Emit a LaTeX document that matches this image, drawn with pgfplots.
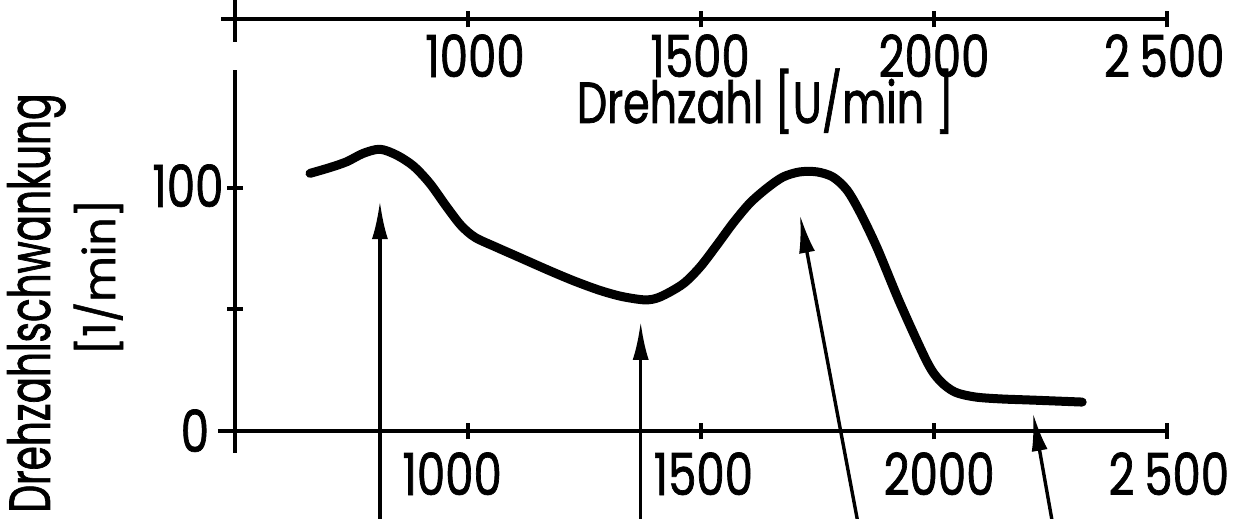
\documentclass[border=0pt]{standalone}
\usepackage{pgfplots}
\pgfplotsset{compat=1.18}
\usepackage{fontspec}
\setmainfont[FakeBold=1.2]{Poppins}
\newfontfamily\numfont[FakeStretch=0.777, FakeBold=1.2]{Poppins}
\newfontfamily\labfont[FakeStretch=0.738, FakeBold=1.2]{Poppins}
\newfontfamily\ylabfont[FakeStretch=0.673, FakeBold=1.2]{Poppins}
\usetikzlibrary{arrows.meta}

\begin{document}
\begin{tikzpicture}
\begin{axis}[
  scale only axis,
  width=466pt, height=121.65pt,
  xmin=500, xmax=2500, ymin=0, ymax=100,
  hide axis, clip=false,
]
% speed fluctuation over engine speed
\addplot[black, line width=4.5pt, line cap=round, line join=round, smooth, tension=0.5] coordinates {
  (661,105.9) (704,108.3) (740,110.7) (775,114.1) (811,115.8) (847,113.4)
  (883,108.9) (918,101.8) (954,92.2) (985,84.5) (1015,79.6) (1060,75.6)
  (1105,71.8) (1176,65.8) (1230,61.5) (1283,57.8) (1330,55.3) (1380,53.9)
  (1412,55.1) (1461,60.4) (1498,67.4) (1534,76.4) (1569,85.5) (1605,93.7)
  (1642,99.9) (1676,104.4) (1712,106.5) (1749,106.5) (1783,104.4) (1813,99.1)
  (1841,90.0) (1878,75.2) (1927,52.6) (1985,28.4) (2013,20.6) (2045,16.0)
  (2088,14.0) (2142,13.2) (2212,12.7) (2318,11.9)
};

% axis lines
\draw[line width=2.2pt] (axis cs:463.5,0) -- (axis cs:2500,0);
\draw[line width=2.2pt] (axis cs:500,-9) -- (axis cs:500,148.4);
\draw[line width=2.2pt] (axis cs:470,169.3) -- (axis cs:2500,169.3);
\draw[line width=2.2pt] (axis cs:500,159.9) -- (axis cs:500,180);

% tick marks
\pgfplotsinvokeforeach{1000,1500,2000,2500}{
  \draw[line width=2pt] (axis cs:#1,-3.4) -- (axis cs:#1,3.4);
  \draw[line width=2pt] (axis cs:#1,165.9) -- (axis cs:#1,172.7);
}
\pgfplotsinvokeforeach{50,100}{
  \draw[line width=2pt] (axis cs:483,#1) -- (axis cs:517,#1);
}

% tick labels
\tikzset{num/.style={font=\numfont\fontsize{29}{31}\selectfont, inner sep=0pt, anchor=base}}
\node[num] at (axis cs:1015,145.5) {1000};
\node[num] at (axis cs:1498,145.5) {1500};
\node[num] at (axis cs:2000,145.5) {2000};
\node[num] at (axis cs:2494,145.5) {2\,500};
\node[num] at (axis cs:966,-26.3) {1000};
\node[num] at (axis cs:1505,-26.3) {1500};
\node[num] at (axis cs:2011,-26.3) {2000};
\node[num] at (axis cs:2504,-26.3) {2\,500};
\node[num] at (axis cs:399,92.1) {100};
\node[num] at (axis cs:414,-8.6) {0};

% axis titles
\node[font=\labfont\fontsize{29}{31}\selectfont, inner sep=0pt, anchor=base]
  at (axis cs:1638,126.6) {Drehzahl [U/min ]};
\node[font=\ylabfont\fontsize{29}{31}\selectfont, inner sep=0pt, anchor=base, rotate=90]
  at (axis cs:103,52.6) {Drehzahlschwankung};
\node[font=\fontsize{22}{24}\selectfont, inner sep=0pt, anchor=base, rotate=90]
  at (axis cs:242.5,63.3) {[1/min]};

% pointer arrows
\tikzset{ptr/.style={line width=1.7pt, -{Latex[length=19pt,width=8pt]}}}
\draw[ptr] (axis cs:811,-45) -- (axis cs:811,94.5);
\draw[ptr] (axis cs:1370.6,-45) -- (axis cs:1370.6,44.9);
\draw[ptr] (axis cs:1843.9,-45) -- (axis cs:1712.4,88.8);
\draw[ptr] (axis cs:2260.9,-45) -- (axis cs:2212.4,7.4);

\coordinate (sw) at (axis cs:-4.29,-35.76);
\coordinate (ne) at (axis cs:2650.2,177.15);
\end{axis}
\pgfresetboundingbox
\useasboundingbox (sw) rectangle (ne);
\end{tikzpicture}
\end{document}
